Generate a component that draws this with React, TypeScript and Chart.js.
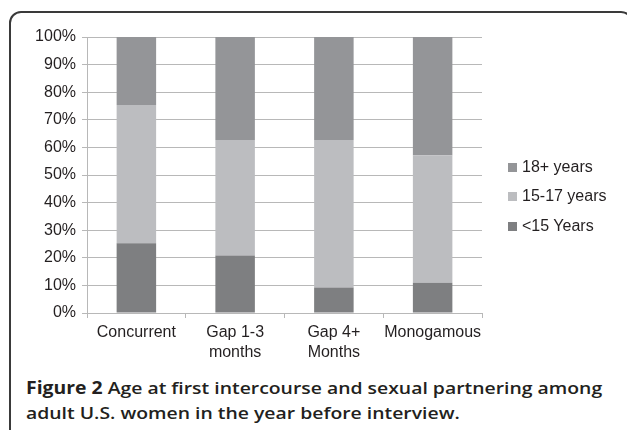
import React, { useEffect, useRef } from "react";
import { Chart, registerables } from "chart.js";

Chart.register(...registerables);

const categories: (string | string[])[] = [
  "Concurrent",
  ["Gap 1-3", "months"],
  ["Gap 4+", "Months"],
  "Monogamous",
];
const under15 = [25.3, 20.8, 9.2, 11.0];
const age15to17 = [50.1, 41.9, 53.5, 46.2];
const age18plus = [24.6, 37.3, 37.3, 42.8];
const seriesNames = ["<15 Years", "15-17 years", "18+ years"];
const seriesColors = ["#7e7f81", "#bcbdc0", "#949598"];

const GRID = "#b8b8b8";
const TEXT = "#231f20";
const FONT = "'Liberation Sans', Arial, sans-serif";

export default function App() {
  const canvasRef = useRef<HTMLCanvasElement | null>(null);

  useEffect(() => {
    if (!canvasRef.current) return;
    const chart = new Chart(canvasRef.current, {
      type: "bar",
      data: {
        labels: categories,
        datasets: [
          { label: seriesNames[0], data: under15, backgroundColor: seriesColors[0] },
          { label: seriesNames[1], data: age15to17, backgroundColor: seriesColors[1] },
          { label: seriesNames[2], data: age18plus, backgroundColor: seriesColors[2] },
        ],
      },
      options: {
        responsive: false,
        animation: false,
        layout: { padding: { top: 37, left: 0, right: 145, bottom: 0 } },
        datasets: { bar: { categoryPercentage: 1, barPercentage: 0.4 } },
        plugins: { legend: { display: false }, tooltip: { enabled: false } },
        scales: {
          x: {
            stacked: true,
            offset: true,
            grid: {
              offset: true,
              drawOnChartArea: false,
              drawTicks: true,
              tickLength: 5,
              color: GRID,
            },
            border: { display: true, color: GRID },
            ticks: {
              color: TEXT,
              font: { family: FONT, size: 16, lineHeight: 1.25 },
              padding: 5,
              maxRotation: 0,
              autoSkip: false,
            },
            afterFit: (s: any) => {
              s.height = 57;
            },
          },
          y: {
            stacked: true,
            min: 0,
            max: 100,
            grid: { color: GRID, tickLength: 5, drawTicks: true },
            border: { display: true, color: GRID },
            ticks: {
              stepSize: 10,
              color: TEXT,
              font: { family: FONT, size: 16 },
              padding: 6,
              callback: (v: any) => v + "%",
            },
            afterFit: (s: any) => {
              s.width = 87;
            },
          },
        },
      },
    });
    return () => chart.destroy();
  }, []);

  const legendOrder = [2, 1, 0];
  const legendTops = [158, 187, 217];

  return (
    <div
      style={{
        position: "fixed",
        left: 0,
        top: 0,
        width: 627,
        height: 430,
        overflow: "hidden",
        background: "#fff",
      }}
    >
      <div
        style={{
          position: "absolute",
          left: 9,
          top: 11,
          width: 624,
          height: 460,
          border: "2px solid #3a3a3a",
          borderRadius: 12,
          boxSizing: "border-box",
        }}
      />
      <canvas
        ref={canvasRef}
        width={627}
        height={370}
        style={{ position: "absolute", left: 0, top: 0, width: 627, height: 370 }}
      />
      {legendOrder.map((idx, i) => (
        <div
          key={idx}
          style={{
            position: "absolute",
            left: 508,
            top: legendTops[i],
            height: 18,
            display: "flex",
            alignItems: "center",
            fontFamily: FONT,
            fontSize: 16,
            color: TEXT,
            whiteSpace: "nowrap",
          }}
        >
          <span
            style={{
              display: "inline-block",
              width: 9,
              height: 9,
              background: seriesColors[idx],
              marginRight: 5,
            }}
          />
          {seriesNames[idx]}
        </div>
      ))}
      <div
        style={{
          position: "absolute",
          left: 26,
          top: 375,
          width: 500,
          fontFamily: "'Open Sans', sans-serif",
          fontSize: 17,
          lineHeight: "25px",
          fontWeight: 600,
          color: TEXT,
          transform: "scaleX(1.14)",
          transformOrigin: "left top",
          whiteSpace: "nowrap",
        }}
      >
        <div>
          <span style={{ fontWeight: 700 }}>Figure 2</span> Age at first intercourse and sexual
          partnering among
        </div>
        <div>adult U.S. women in the year before interview.</div>
      </div>
    </div>
  );
}
